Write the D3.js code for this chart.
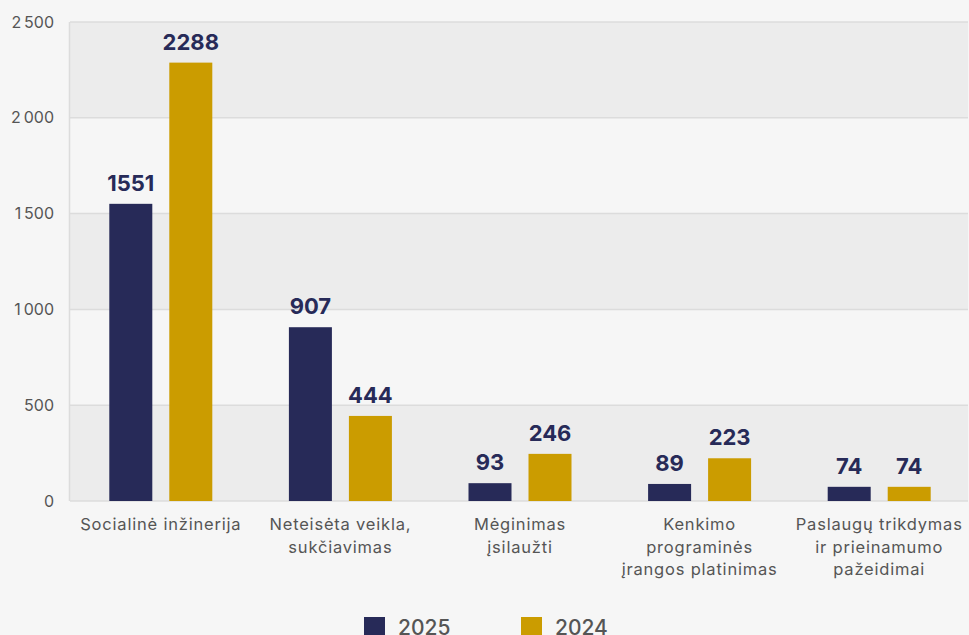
<!DOCTYPE html>
<html>
<head>
<meta charset="utf-8">
<script src="https://cdn.jsdelivr.net/npm/d3@7"></script>
<style>
  html, body { margin: 0; padding: 0; background: #f6f6f6; }
  svg { display: block; font-family: Inter, "Noto Sans", sans-serif; }
</style>
</head>
<body>
<svg width="969" height="635"></svg>
<script>
// data
var categories = [
  ["Socialinė inžinerija"],
  ["Neteisėta veikla,", "sukčiavimas"],
  ["Mėginimas", "įsilaužti"],
  ["Kenkimo", "programinės", "įrangos platinimas"],
  ["Paslaugų trikdymas", "ir prieinamumo", "pažeidimai"]
];
var series = ["2025", "2024"];
var values2025 = [1551, 907, 93, 89, 74];
var values2024 = [2288, 444, 246, 223, 74];
var yTicks = [0, 500, 1000, 1500, 2000, 2500];
var colors = ["#272a58", "#cb9c00"];

function draw() {
  var svg = d3.select("svg");
  var mLeft = 70, mRight = 968, mTop = 22, mBottom = 501;

  var x = d3.scaleBand().domain(d3.range(categories.length)).range([mLeft + 1, mRight + 1]);
  var y = d3.scaleLinear().domain([0, 2500]).range([mBottom, mTop]);

  // alternating bands
  for (var i = 0; i < yTicks.length - 1; i++) {
    svg.append("rect")
      .attr("x", mLeft)
      .attr("y", y(yTicks[i + 1]))
      .attr("width", mRight - mLeft)
      .attr("height", y(yTicks[i]) - y(yTicks[i + 1]))
      .attr("fill", i % 2 == 0 ? "#ececec" : "#f6f6f6");
  }

  // gridlines
  svg.append("g")
    .selectAll("line")
    .data(yTicks)
    .enter()
    .append("line")
    .attr("x1", mLeft)
    .attr("x2", mRight)
    .attr("y1", function(d) { return y(d); })
    .attr("y2", function(d) { return y(d); })
    .attr("stroke", "#dcdcdc")
    .attr("stroke-width", 1.5);

  svg.append("line")
    .attr("x1", mLeft - 0.5).attr("x2", mLeft - 0.5)
    .attr("y1", mTop).attr("y2", mBottom)
    .attr("stroke", "#dcdcdc").attr("stroke-width", 1.5);

  // y axis labels
  var fmt = function(d) { return d >= 1000 ? d3.format(",")(d).replace(",", "\u202f") : String(d); };
  svg.append("g")
    .attr("transform", "translate(54,0)")
    .call(d3.axisLeft(y).tickValues(yTicks).tickFormat(fmt).tickSize(0).tickPadding(0))
    .call(function(g) { g.select(".domain").remove(); })
    .selectAll("text")
    .attr("fill", "#555")
    .style("font-size", "16px")
    .style("font-family", "Inter, sans-serif");

  // bars
  var barW = 43, gap = 17;
  var xs = d3.scaleBand().domain(series).range([0, barW * 2 + gap]).paddingInner(gap / (barW + gap));
  var rows = [];
  categories.forEach(function(c, i) {
    rows.push({ i: i, s: "2025", v: values2025[i], c: colors[0] });
    rows.push({ i: i, s: "2024", v: values2024[i], c: colors[1] });
  });
  var groupOff = (x.bandwidth() - (barW * 2 + gap)) / 2;

  svg.append("g")
    .selectAll("rect")
    .data(rows)
    .enter()
    .append("rect")
    .attr("x", function(d) { return x(d.i) + groupOff + xs(d.s); })
    .attr("y", function(d) { return y(d.v); })
    .attr("width", xs.bandwidth())
    .attr("height", function(d) { return y(0) - y(d.v); })
    .attr("fill", function(d) { return d.c; });

  // value labels
  svg.append("g")
    .selectAll("text")
    .data(rows)
    .enter()
    .append("text")
    .attr("x", function(d) { return x(d.i) + groupOff + xs(d.s) + xs.bandwidth() / 2; })
    .attr("y", function(d) { return y(d.v) - 13; })
    .attr("text-anchor", "middle")
    .attr("fill", "#272a58")
    .style("font-size", "22px")
    .style("font-weight", "700")
    .text(function(d) { return d.v; });

  // category labels
  var cat = svg.append("g")
    .selectAll("text")
    .data(categories)
    .enter()
    .append("text")
    .attr("text-anchor", "middle")
    .attr("fill", "#555")
    .style("font-size", "16.5px")
    .style("letter-spacing", "0.8px")
    .attr("transform", function(d, i) { return "translate(" + (x(i) + x.bandwidth() / 2) + ",530)"; });
  cat.selectAll("tspan")
    .data(function(d) { return d; })
    .enter()
    .append("tspan")
    .attr("x", 0)
    .attr("y", function(d, j) { return j * 22.5; })
    .text(function(d) { return d; });

  // legend
  var legendX = [364, 521];
  var lg = svg.append("g")
    .selectAll("g")
    .data(series)
    .enter()
    .append("g")
    .attr("transform", function(d, i) { return "translate(" + legendX[i] + ",617)"; });
  lg.append("rect")
    .attr("width", 21).attr("height", 21)
    .attr("fill", function(d, i) { return colors[i]; });
  lg.append("text")
    .attr("x", 34).attr("y", 18)
    .attr("fill", "#555")
    .style("font-size", "21px")
    .style("font-weight", "500")
    .text(function(d) { return d; });
}
draw();
</script>
</body>
</html>
